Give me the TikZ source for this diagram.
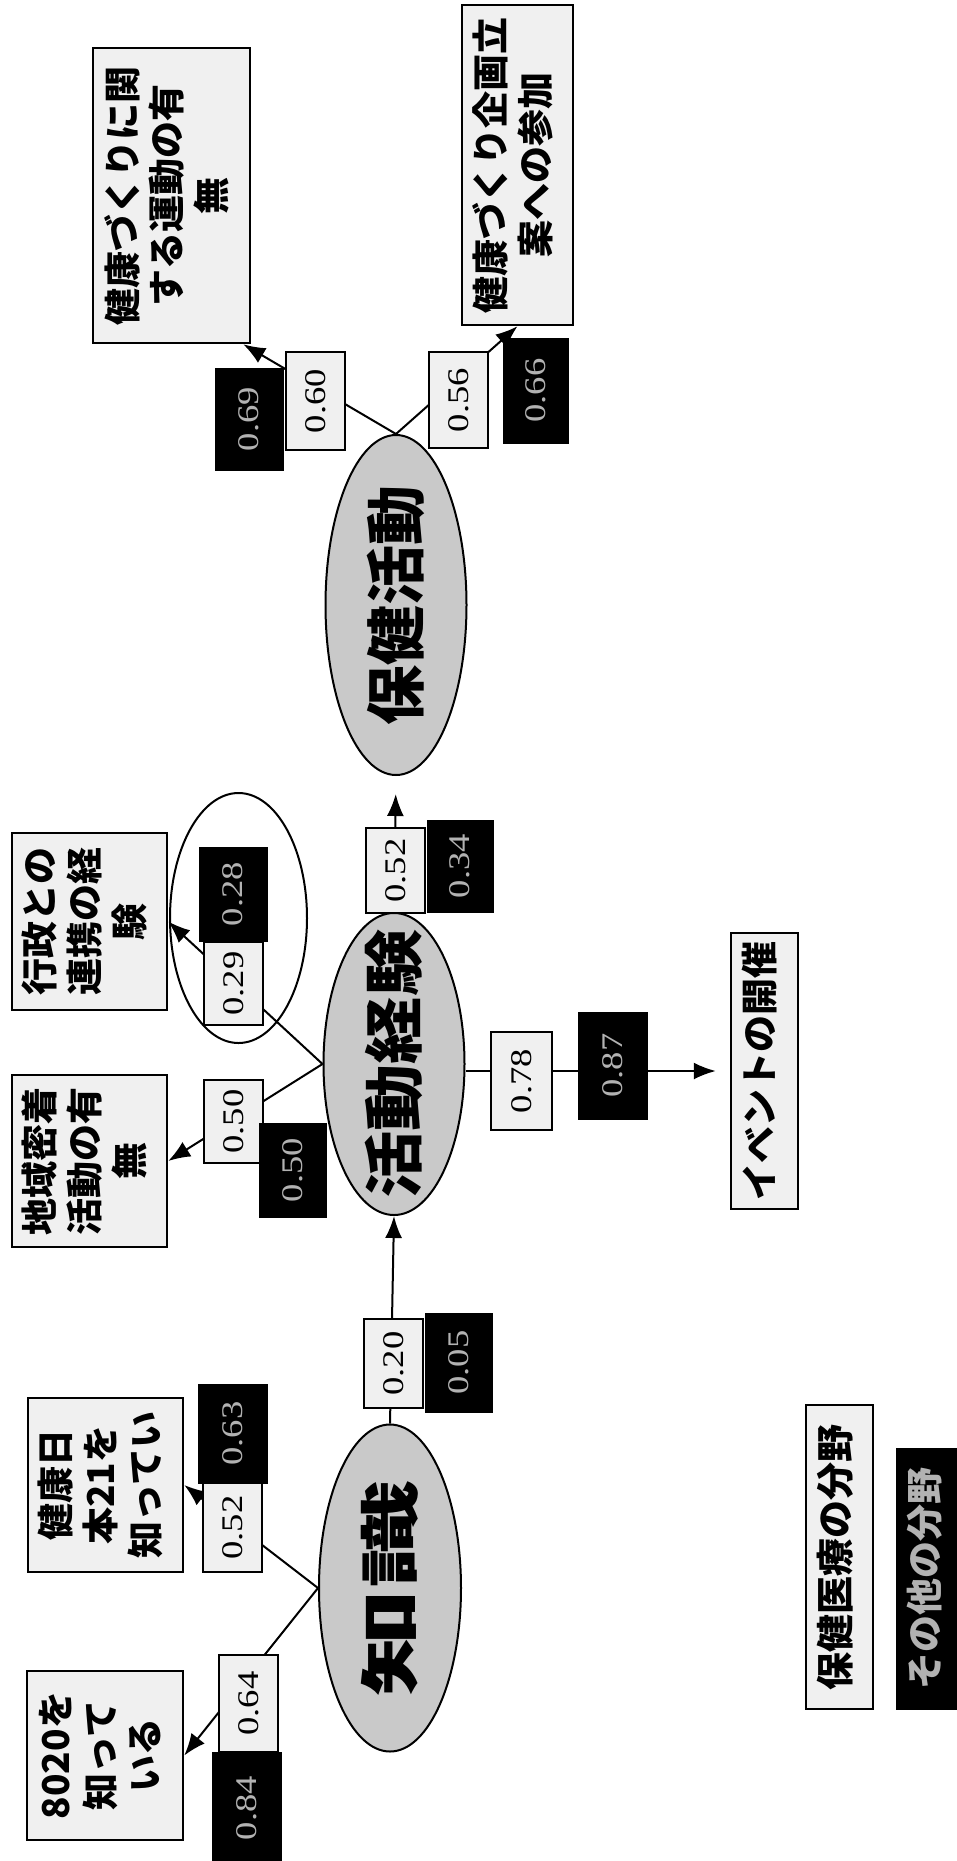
\documentclass[tikz,border=0pt]{standalone}
\usepackage{fontspec}
\setmainfont{Liberation Serif}
\newfontfamily\jp{Noto Sans CJK JP}
\usetikzlibrary{shapes.geometric,arrows.meta}
\newcommand\vlines[1]{\rotatebox{90}{\begin{tabular}{@{}c@{}}#1\end{tabular}}}
\newcommand\vbig[2]{\rotatebox{90}{\makebox[0pt]{\scalebox{#1}[1]{#2}}}}
\newcommand\vnum[1]{\rotatebox{90}{\scalebox{1.22}[1]{#1}}}

\begin{document}
\begin{tikzpicture}[x=1pt,y=-1pt,
    box/.style={draw,line width=2.5pt,fill=gray!12,inner sep=0pt,font=\jp\bfseries\fontsize{37}{44}\selectfont},
    oval/.style={ellipse,draw,line width=2pt,fill=gray!42,inner sep=0pt,font=\jp\bfseries\fontsize{60}{62}\selectfont},
    wlab/.style={draw,line width=2pt,fill=gray!12,inner sep=0pt,minimum width=59pt,font=\fontsize{30}{32}\selectfont},
    dlab/.style={draw,fill=black,text=gray!60,inner sep=0pt,font=\fontsize{30}{32}\selectfont},
    arr/.style={line width=2pt,-{Latex[length=22pt,width=17pt]}}]
  \useasboundingbox (0,0) rectangle (957,1861);

  \node[oval,minimum width=141pt,minimum height=340pt] (hoken) at (396,605) {\vbig{1}{保健活動}};
  \node[oval,minimum width=141pt,minimum height=302pt] (keiken) at (394,1064) {\vbig{1.12}{活動経験}};
  \node[oval,minimum width=142pt,minimum height=327pt] (chishiki) at (390,1588) {\vbig{1.8}{知識}};

  \node[box,minimum width=156pt,minimum height=169pt] (b8020) at (105,1755.5) {\vlines{8020を\\知って\\いる}};
  \node[box,minimum width=155pt,minimum height=174pt] (b21) at (105.5,1485) {\vlines{健康日\\本21を\\知ってい}};
  \node[box,minimum width=155pt,minimum height=172pt] (chiiki) at (89.5,1161) {\vlines{地域密着\\活動の有\\無}};
  \node[box,minimum width=155pt,minimum height=177pt] (gyosei) at (89.5,921.5) {\vlines{行政との\\連携の経\\験}};
  \node[box,minimum width=157pt,minimum height=295pt] (kansuru) at (171.5,195.5) {\vlines{健康づくりに関\\する運動の有\\無}};
  \node[box,minimum width=111pt,minimum height=320pt] (kikaku) at (517.5,165) {\vlines{健康づくり企画立\\案への参加}};
  \node[box,minimum width=67pt,minimum height=276pt] (event) at (764.5,1071) {\vlines{イベントの開催}};

  \draw[arr] (chishiki.west) -- (b8020.east);
  \draw[arr] (chishiki.west) -- (b21.east);
  \draw[arr] (chishiki.north) -- (keiken.south);
  \draw[arr] (keiken.west) -- (chiiki.east);
  \draw[arr] (keiken.west) -- (gyosei.east);
  \draw[arr,shorten >=14pt] (keiken.east |- event.west) -- (event.west);
  \draw[arr,shorten >=18pt] (keiken.north) -- (hoken.south);
  \draw[arr] (hoken.north) -- ([xshift=-8pt]kansuru.south east);
  \draw[arr] (hoken.north) -- (kikaku.south);

  \node[ellipse,draw,line width=2pt,minimum width=137pt,minimum height=250pt] (group) at (238.5,918) {};

  \node[wlab,minimum height=97pt] (w064) at (248.5,1703.5) {\vnum{0.64}};
  \node[dlab,minimum width=69pt,minimum height=112pt] (k084) at (246.5,1808) {\vnum{0.84}};
  \node[wlab,minimum height=89pt] (w052a) at (232.5,1527.5) {\vnum{0.52}};
  \node[dlab,minimum width=69pt,minimum height=99pt] (k063) at (232.5,1433.5) {\vnum{0.63}};
  \node[wlab,minimum height=89pt] (w020) at (393.5,1363.5) {\vnum{0.20}};
  \node[dlab,minimum width=67pt,minimum height=99pt] (k005) at (458.5,1362.5) {\vnum{0.05}};
  \node[wlab,minimum height=83pt] (w050) at (233.5,1121.5) {\vnum{0.50}};
  \node[dlab,minimum width=67pt,minimum height=94pt] (k050) at (292.5,1170) {\vnum{0.50}};
  \node[wlab,minimum height=83pt] (w029) at (233.5,983.5) {\vnum{0.29}};
  \node[dlab,minimum width=68pt,minimum height=94pt] (k028) at (233,894) {\vnum{0.28}};
  \node[wlab,minimum height=85pt] (w052b) at (395.5,870.5) {\vnum{0.52}};
  \node[dlab,minimum width=66pt,minimum height=92pt] (k034) at (460,866) {\vnum{0.34}};
  \node[wlab,minimum width=61pt,minimum height=98pt] (w078) at (521.5,1081) {\vnum{0.78}};
  \node[dlab,minimum width=69pt,minimum height=107pt] (k087) at (612.5,1065.5) {\vnum{0.87}};
  \node[wlab,minimum height=98pt] (w060) at (315.5,401) {\vnum{0.60}};
  \node[dlab,minimum width=68pt,minimum height=102pt] (k069) at (249,419) {\vnum{0.69}};
  \node[wlab,minimum height=96pt] (w056) at (458.5,400) {\vnum{0.56}};
  \node[dlab,minimum width=65pt,minimum height=105pt] (k066) at (535.5,390.5) {\vnum{0.66}};

  \node[box,minimum width=67pt,minimum height=304pt,font=\jp\bfseries\fontsize{38}{40}\selectfont] (field) at (839.5,1557) {\vlines{保健医療の分野}};
  \node[dlab,minimum width=66pt,minimum height=261pt,font=\jp\bfseries\fontsize{37}{40}\selectfont] (other) at (929,1578.5) {\vlines{その他の分野}};
\end{tikzpicture}
\end{document}
